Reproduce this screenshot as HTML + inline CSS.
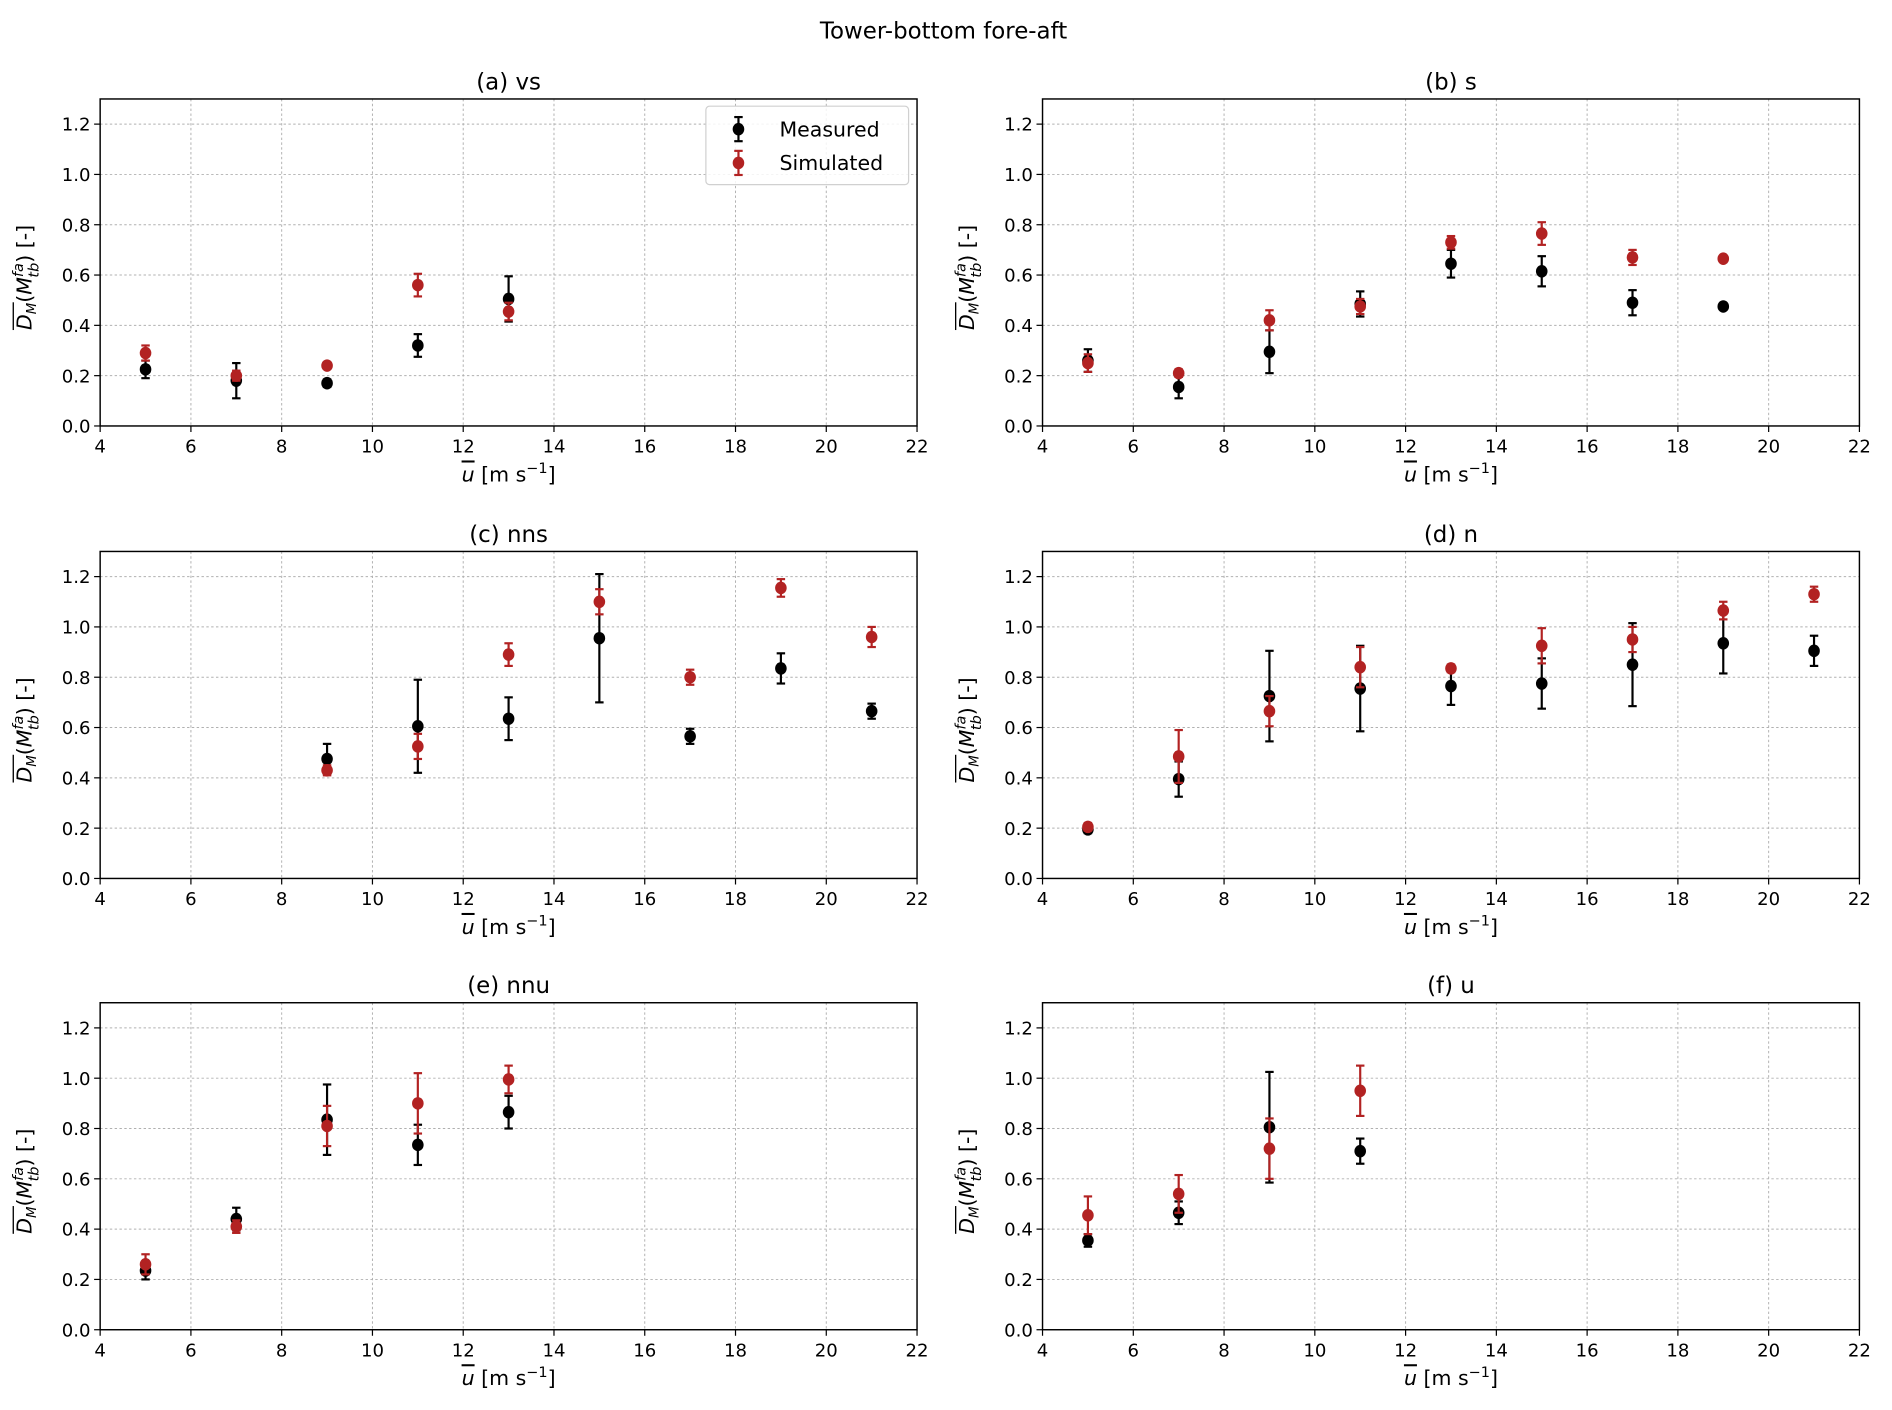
<!DOCTYPE html>
<html><head><meta charset="utf-8"><style>
html,body{margin:0;padding:0;background:#fff;}
svg{display:block;font-family:"DejaVu Sans","Liberation Sans",sans-serif;}
</style></head><body>
<svg id="fig" width="1892" height="1410" viewBox="0 0 1568 1168.5" xmlns="http://www.w3.org/2000/svg">
<text x="782" y="32" font-size="19" text-anchor="middle">Tower-bottom fore-aft</text>
</svg>
<script>
const panelTitles = ["(a) vs","(b) s","(c) nns","(d) n","(e) nnu","(f) u"];
const xTicks = [4,6,8,10,12,14,16,18,20,22];
const yTicks = [0.0,0.2,0.4,0.6,0.8,1.0,1.2];
const measX = [[5,7,9,11,13],[5,7,9,11,13,15,17,19],[9,11,13,15,17,19,21],[5,7,9,11,13,15,17,19,21],[5,7,9,11,13],[5,7,9,11]];
const measY = [[0.225,0.18,0.17,0.32,0.505],[0.26,0.155,0.295,0.485,0.645,0.615,0.49,0.475],[0.475,0.605,0.635,0.955,0.565,0.835,0.665],[0.195,0.395,0.725,0.755,0.765,0.775,0.85,0.935,0.905],[0.235,0.44,0.835,0.735,0.865],[0.355,0.465,0.805,0.71]];
const measE = [[0.035,0.07,0.015,0.045,0.09],[0.045,0.045,0.085,0.05,0.055,0.06,0.05,0.01],[0.06,0.185,0.085,0.255,0.03,0.06,0.03],[0.015,0.07,0.18,0.17,0.075,0.1,0.165,0.12,0.06],[0.035,0.045,0.14,0.08,0.065],[0.025,0.045,0.22,0.05]];
const simX = measX;
const simY = [[0.29,0.2,0.24,0.56,0.455],[0.25,0.21,0.42,0.475,0.73,0.765,0.67,0.665],[0.43,0.525,0.89,1.1,0.8,1.155,0.96],[0.205,0.485,0.665,0.84,0.835,0.925,0.95,1.065,1.13],[0.26,0.41,0.81,0.9,0.995],[0.455,0.54,0.72,0.95]];
const simE = [[0.03,0.02,0.01,0.045,0.035],[0.035,0.015,0.04,0.03,0.025,0.045,0.03,0.01],[0.02,0.05,0.045,0.05,0.03,0.035,0.04],[0.015,0.105,0.06,0.08,0.015,0.07,0.05,0.035,0.03],[0.04,0.025,0.08,0.12,0.055],[0.075,0.075,0.12,0.1]];

const NS="http://www.w3.org/2000/svg";
const svg=document.getElementById('fig');
function mk(tag,attrs,parent){const e=document.createElementNS(NS,tag);for(const k in attrs)e.setAttribute(k,attrs[k]);(parent||svg).appendChild(e);return e;}
const colL=[83,864], W=677, rowT=[82,457,831], H=271;
const BLACK="#000", RED="#b22222";
for(let p=0;p<6;p++){
  const x0=colL[p%2], y0=rowT[Math.floor(p/2)];
  const sx=v=>x0+(v-4)/18*W;
  const sy=v=>y0+H-v/1.3*H;
  const g=mk('g',{});
  
  
  const t=mk('text',{x:x0+W/2,y:y0-8,'font-size':19,'text-anchor':'middle'},g);t.textContent=panelTitles[p];
  
  
  xTicks.forEach(v=>{
    if(v>4&&v<22) mk('line',{x1:sx(v),x2:sx(v),y1:y0,y2:y0+H,stroke:'#b0b0b0','stroke-width':0.8,'stroke-dasharray':'2,2'},g);
    mk('line',{x1:sx(v),x2:sx(v),y1:y0+H,y2:y0+H+5,stroke:'#000','stroke-width':1},g);
    const tx=mk('text',{x:sx(v),y:y0+H+22,'font-size':15,'text-anchor':'middle'},g);tx.textContent=v;
    
    
  });
  yTicks.forEach(v=>{
    if(v>0) mk('line',{x1:x0,x2:x0+W,y1:sy(v),y2:sy(v),stroke:'#b0b0b0','stroke-width':0.8,'stroke-dasharray':'2,2'},g);
    mk('line',{x1:x0-5,x2:x0,y1:sy(v),y2:sy(v),stroke:'#000','stroke-width':1},g);
    const ty=mk('text',{x:x0-8,y:sy(v)+5.5,'font-size':15,'text-anchor':'end'},g);ty.textContent=v.toFixed(1);
    
    
  });
  mk('rect',{x:x0,y:y0,width:W,height:H,fill:'none',stroke:'#000','stroke-width':1.2},g);
  const xl=mk('text',{x:x0+W/2,y:y0+H+46,'font-size':17,'text-anchor':'middle'},g);
  xl.innerHTML='<tspan font-style="italic" text-decoration="overline">u</tspan> [m s<tspan dy="-7" font-size="12">−1</tspan><tspan dy="7">]</tspan>';
  
  
  const ylg=mk('g',{transform:`translate(${x0-57},${y0+H/2}) rotate(-90)`},g);
  
  
  const yl=mk('text',{x:-56,y:0,'font-size':17},ylg);
  yl.innerHTML='<tspan font-style="italic">D</tspan><tspan font-style="italic" font-size="11" dy="4">M</tspan><tspan dy="-4">(</tspan><tspan font-style="italic">M</tspan><tspan font-style="italic" font-size="12" dy="-7">fa</tspan><tspan font-style="italic" font-size="12" dx="-12" dy="13">tb</tspan><tspan dy="-6">) [-]</tspan>';
  mk('line',{x1:-56,x2:-33,y1:-15,y2:-15,stroke:'#000','stroke-width':1.1},ylg);
  const series=[[measX[p],measY[p],measE[p],BLACK,'measured'],[simX[p],simY[p],simE[p],RED,'simulated']];
  series.forEach(([xs,ys,es,c,nm])=>{
    xs.forEach((xv,i)=>{
      const cx=sx(xv), yt=sy(ys[i]+es[i]), yb=sy(ys[i]-es[i]);
      const eb=mk('g',{},g);
      
      
      mk('line',{x1:cx,x2:cx,y1:yt,y2:yb,stroke:c,'stroke-width':1.8},eb);
      mk('line',{x1:cx-3.5,x2:cx+3.5,y1:yt,y2:yt,stroke:c,'stroke-width':1.8},eb);
      mk('line',{x1:cx-3.5,x2:cx+3.5,y1:yb,y2:yb,stroke:c,'stroke-width':1.8},eb);
      const pt=mk('ellipse',{cx:cx,cy:sy(ys[i]),rx:4.8,ry:5.2,fill:c},g);
      
      
    });
  });
  if(p===0){
    const lg=mk('g',{},g);
    
    
    mk('rect',{x:585,y:88,width:168,height:65,rx:3,fill:'#fff','fill-opacity':0.85,stroke:'#d0d0d0','stroke-width':1},lg);
    [[BLACK,'Measured',107],[RED,'Simulated',135]].forEach(([c,l,yy])=>{
      const e=mk('g',{},lg);
      
      
      mk('line',{x1:612,x2:612,y1:yy-10,y2:yy+10,stroke:c,'stroke-width':1.8},e);
      mk('line',{x1:608.5,x2:615.5,y1:yy-10,y2:yy-10,stroke:c,'stroke-width':1.8},e);
      mk('line',{x1:608.5,x2:615.5,y1:yy+10,y2:yy+10,stroke:c,'stroke-width':1.8},e);
      mk('ellipse',{cx:612,cy:yy,rx:4.8,ry:5.2,fill:c},e);
      const tt=mk('text',{x:646,y:yy+6,'font-size':17},e);tt.textContent=l;
    });
  }
}
</script>
</body></html>
